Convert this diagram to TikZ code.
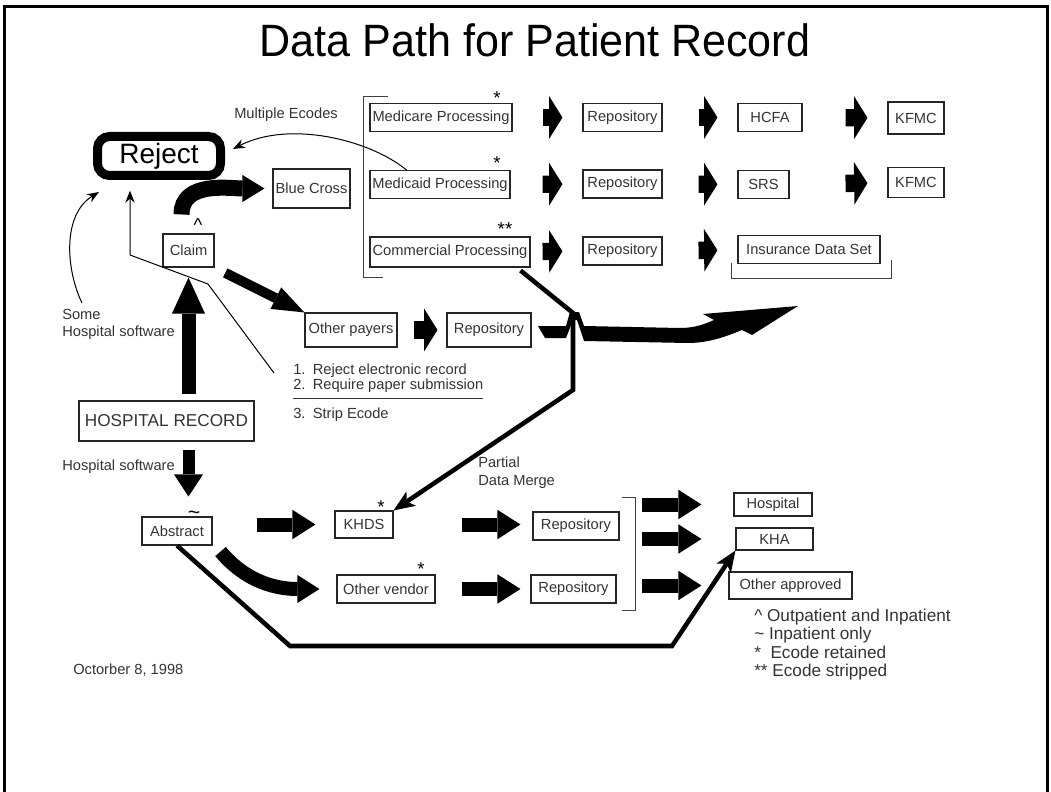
\documentclass[tikz,border=0pt]{standalone}
\usepackage{fontspec}
\setmainfont{Liberation Sans}
\usetikzlibrary{arrows.meta, calc}
\newcommand\boxfont{\fontsize{11}{13}\selectfont}
\newcommand\notefont{\fontsize{11}{11.5}\selectfont}
\newcommand\hrfont{\fontsize{12.9}{15}\selectfont}
\newcommand\legfont{\fontsize{12.9}{13.7}\selectfont}
\tikzset{
  box/.style={draw=black!85, line width=0.8pt, inner sep=0pt, text=black!80,
    font=\boxfont, minimum height=21pt},
  lbl/.style={text=black!80, font=\boxfont, inner sep=0pt},
  sym/.style={font=\fontsize{14}{14}\selectfont, inner sep=0pt},
  blk/.style={line width=13pt, shorten <=#1, shorten >=15pt,
    -{Triangle[length=10pt, width=32pt, line width=0pt]}},
  bigblk/.style 2 args={line width=10.5pt, shorten <=#1, shorten >=#2,
    -{Triangle[length=17.25pt, width=22pt, line width=0pt]}},
  wire/.style={line width=3.4pt,
    -{Stealth[length=16pt, width=13pt, inset=4pt, line width=0pt]}},
  lead/.style={line width=0.75pt, -{Stealth[length=9pt, width=7pt, line width=0pt]}},
  bracketline/.style={draw=black!75, line width=0.75pt},
}

\begin{document}
\begin{tikzpicture}[x=0.75pt, y=-0.75pt]
          \useasboundingbox (0,0) rectangle (1051,792);
          \draw[line width=2.25pt] (4,792) -- (4,7) -- (1047,7) -- (1047,792);
          \node[font=\fontsize{34}{34}\selectfont, xscale=0.95] (title) at (535,40) {Data Path for Patient Record};

          % payers
          \node[box, minimum width=106.5pt] (mc) at (441,117.5) {Medicare Processing};
          \node[box, minimum width=105pt] (mcd) at (440,184.5) {Medicaid Processing};
          \node[box, minimum width=120pt, minimum height=22.5pt] (cp) at (450,252) {Commercial Processing};
          \node[box, minimum width=59.25pt] (rep1) at (622.5,117.5) {Repository};
          \node[box, minimum width=59.25pt] (rep2) at (622.5,184) {Repository};
          \node[box, minimum width=59.25pt] (rep3) at (622.5,251) {Repository};
          \node[box, minimum width=48pt] (hcfa) at (770,117.5) {HCFA};
          \node[box, minimum width=38.25pt] (srs) at (763.5,184.5) {SRS};
          \node[box, minimum width=42pt, minimum height=24pt] (kfmc1) at (916,118) {KFMC};
          \node[box, minimum width=42pt, minimum height=22pt] (kfmc2) at (916,182.5) {KFMC};
          \node[box, minimum width=106.5pt] (ids) at (809,249.5) {Insurance Data Set};
          \node[sym] (s1) at (497,98) {*};
          \node[sym] (s2) at (497,163) {*};
          \node[sym] (s3) at (505,229) {**};
          \draw[bracketline] (388,97) -- (363,97) -- (363,277) -- (383,277);
          \draw[bracketline] (731,263) -- (731,278) -- (891,278) -- (891,260);
          \draw[blk=22.5pt] (mc) -- (rep1);
          \draw[blk=27pt] (rep1) -- (hcfa);
          \draw[blk=32.25pt] (hcfa) -- (kfmc1);
          \draw[blk=24pt] (mcd) -- (rep2);
          \draw[blk=27pt] (rep2) -- (srs);
          \draw[blk=42pt] (srs) -- (kfmc2);
          \draw[blk=9pt] (cp) -- (rep3);
          \draw[blk=27pt] (rep3) -- (ids);

          % claim side
          \node[draw, line width=6.75pt, rounded corners=9pt, minimum width=92.25pt,
            minimum height=29.25pt, inner sep=0pt, font=\fontsize{21}{21}\selectfont] (reject) at (159,156) {Reject};
          \node[box, minimum width=57.75pt, minimum height=29.25pt] (bc) at (311.5,188.5) {Blue Cross};
          \node[box, minimum width=38.25pt, minimum height=24.75pt] (claim) at (188.5,250.5) {Claim};
          \node[sym] (hat) at (198,225) {\textasciicircum};
          \node[box, minimum width=69pt, minimum height=25.5pt] (op) at (351,330) {Other payers};
          \node[box, minimum width=63pt, minimum height=25.5pt] (rep4) at (489,330) {Repository};
          \node[box, minimum width=131.25pt, minimum height=30pt, font=\hrfont] (hrec) at (166.5,421) {HOSPITAL RECORD};
          \node[lbl, anchor=base west] (mult) at (234,118) {Multiple Ecodes};
          \node[lbl, anchor=north west, align=left] (some) at (62,309) {Some\\Hospital software};
          \node[lbl, anchor=base west] (hsw) at (62,470) {Hospital software};
          \node[lbl, anchor=north west, font=\notefont] (note) at (293,363)
            {\begin{tabular}{@{}l@{}}1.\enspace Reject electronic record\\2.\enspace Require paper submission\\[3.3pt]
            \hline\rule{0pt}{15pt}3.\enspace Strip Ecode\end{tabular}};
          \draw[blk=12pt, shorten >=6.75pt] (op) -- (rep4);
          \draw[line width=12pt, -{Triangle[length=16.5pt, width=20.25pt, line width=0pt]}]
            ($(claim.north)+(-7,-19)$) to[out=90, in=180] ($(bc.west)+(-8,0)$);
          \draw[line width=7.5pt, shorten <=9pt, -{Triangle[length=24pt, width=18pt, line width=0pt]}]
            (claim.south east) -- (op.north west);
          \draw[line width=10.5pt, shorten <=4.5pt, shorten >=7.5pt,
            -{Triangle[length=27pt, width=24.75pt, line width=0pt]}] (hrec.north -| claim.south) -- (claim.south);
          \draw[lead] ($(mcd.north west)+(37,0)$) .. controls (370,140) and (290,120) .. ($(reject.east)+(8,-7)$);
          \draw[lead] ($(some.north west)+(20,-6)$) .. controls (66,270) and (62,215) .. ($(reject.south west)+(6,12)$);
          \coordinate (elb1) at (208,284);
          \coordinate (elb2) at (130,255);
          \draw[lead, shorten >=8pt] ($(note.north west)+(-19,10)$) -- (elb1) -- (elb2) -- (elb2 |- reject.south);

          % commercial data to the merge, and on
          \fill (538,326) -- (566,326) -- (570,312) -- (579,312) -- (584,326)
            -- (680,328) .. controls (695,328) and (705,324) .. (714,320) -- (703,314) -- (798,306)
            -- (752,335) -- (742,330) .. controls (725,337) and (708,343) .. (688,343)
            -- (584,341) -- (577,320) -- (573,320) -- (566,338) -- (545,338) -- cycle;
          \coordinate (hop) at (573,313);
          \coordinate (drop) at (573,390);
          \node[lbl, anchor=north west, align=left] (merge) at (478,457) {Partial\\Data Merge};

          % abstract side
          \node[box, minimum width=52.5pt] (abs) at (177,531) {Abstract};
          \node[sym, font=\fontsize{16}{16}\selectfont] (tld) at (194,515) {\textasciitilde};
          \node[box, minimum width=43.5pt, minimum height=20.25pt] (khds) at (364,524.5) {KHDS};
          \node[box, minimum width=73.5pt] (ov) at (386,589) {Other vendor};
          \node[box, minimum width=64.5pt] (rep5) at (576,526) {Repository};
          \node[box, minimum width=63.75pt] (rep6) at (573.5,589) {Repository};
          \node[sym] (s4) at (381,507) {*};
          \node[sym] (s5) at (421,569) {*};
          \node[box, minimum width=58.5pt, minimum height=17.25pt] (hosp) at (773,504.5) {Hospital};
          \node[box, minimum width=57.75pt, minimum height=16.5pt] (kha) at (774.5,539) {KHA};
          \node[box, minimum width=92.25pt, minimum height=20.25pt] (oa) at (790.5,585.5) {Other approved};
          \draw[line width=9pt, shorten <=6pt, shorten >=15pt,
            -{Triangle[length=16.5pt, width=21.75pt, line width=0pt]}] (hrec.south -| claim.south) -- (abs.north -| claim.south);
          \draw[bigblk={33pt}{14.25pt}] (abs.east |- khds) -- (khds.west);
          \draw[bigblk={51pt}{9pt}] (khds.east) -- (khds.east -| rep5.west);
          \draw[bigblk={19.5pt}{7.5pt}] (ov) -- (rep6);
          \draw[line width=10.5pt, -{Triangle[length=16.5pt, width=21pt, line width=0pt]}]
            ($(abs.south east)+(8,6)$) to[out=-50, in=180] ($(ov.west)+(-17,0)$);
          \draw[wire] ($(cp.south east)+(-10,3)$) -- (hop) -- (drop) -- (khds.north east);
          \coordinate (rb) at (635,553);
          \draw[bracketline] (622,497) -- (rb |- 0,497) -- (rb |- 0,610) -- (622,610);
          \draw[bigblk={5.25pt}{24pt}] (rb |- hosp) -- (hosp.west);
          \draw[bigblk={5.25pt}{25.5pt}] (rb |- kha) -- (kha.west);
          \draw[bigblk={5.25pt}{20.25pt}] (rb |- oa) -- (oa.west);
          \coordinate (low1) at (290,646);
          \coordinate (low2) at (672,646);
          \draw[wire] (abs.south) -- (low1) -- (low2) -- (kha.south west);

          \node[lbl, anchor=north west, align=left, font=\legfont] (legend) at (754,609)
            {\textasciicircum{} Outpatient and Inpatient\\\textasciitilde{} Inpatient only\\*\ \ Ecode retained\\** Ecode stripped};
          \node[lbl, anchor=base west] (date) at (73,674) {Octorber 8, 1998};
        \end{tikzpicture}
\end{document}
